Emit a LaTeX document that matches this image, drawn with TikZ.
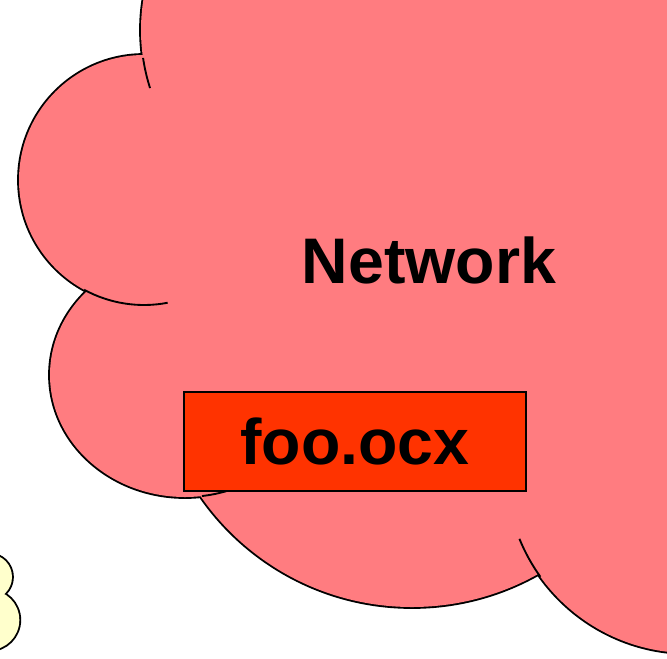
\documentclass[tikz,border=0pt]{standalone}
\usepackage{fontspec}
\setmainfont{Liberation Sans}
\usepackage{tikz}
\usetikzlibrary{calc}
\definecolor{cloudpink}{HTML}{FF7C80}
\definecolor{ocxred}{HTML}{FF3300}
\definecolor{puffyellow}{HTML}{FFFFCC}
\tikzstyle{lobeline}=[line width=3.2pt, draw=black]
\tikzstyle{stub}=[line width=1.6pt, draw=black]
\tikzstyle{bigtext}=[font=\fontsize{55}{60}\selectfont\bfseries]
\tikzstyle{ocxbox}=[bigtext, draw=black, fill=ocxred, line width=.9pt, inner sep=0pt, minimum width=10.26cm, minimum height=2.97cm]

\begin{document}
\begin{tikzpicture}[x=.03cm, y=-.03cm]
	\useasboundingbox (0,0) rectangle (667,658);
	\clip (0,0) rectangle (667,658);
	\coordinate (lobeA) at (332,30);
	\coordinate (lobeB) at (144,180);
	\coordinate (lobeC) at (185,375);
	\coordinate (lobeD) at (412,350);
	\coordinate (lobeE) at (689,470);
	\coordinate (puffA) at (-10.7,577);
	\coordinate (puffB) at (-10.7,620);
	% outline first, then the fill eats the inner half of every line
	\foreach \c/\r in {lobeA/191, lobeB/125, lobeD/257, lobeE/183}
		\draw[lobeline] (\c) circle (\r);
	\draw[lobeline] (lobeC) ellipse [x radius=135, y radius=122];
	\foreach \c/\r in {lobeA/191, lobeB/125, lobeD/257, lobeE/183}
		\fill[cloudpink] (\c) circle (\r);
	\fill[cloudpink] (lobeC) ellipse [x radius=135, y radius=122];
	\fill[cloudpink] (lobeB) -- (lobeA) -- (332,-10) -- (700,-10) -- (700,470) -- (lobeD) -- (lobeC) -- cycle;
	% inner ends of the lobes
	\draw[stub] ($(lobeA)+(171.6:191)$) arc[start angle=171.6, end angle=162.3, radius=191];
	\draw[stub] ($(lobeB)+(118.6:125)$) arc[start angle=118.6, end angle=79.1, radius=125];
	\draw[stub] ($(lobeC)+(82.8:135 and 122)$) arc[start angle=82.8, end angle=60, x radius=135, y radius=122];
	\draw[stub] ($(lobeE)+(144.3:183)$) arc[start angle=144.3, end angle=157.9, radius=183];
	% small puffs
	\foreach \c/\r in {puffA/22.7, puffB/30}
		\draw[lobeline] (\c) circle (\r);
	\foreach \c/\r in {puffA/22.7, puffB/30}
		\fill[puffyellow] (\c) circle (\r);
	\node[bigtext, anchor=base] (net) at (429,283) {Network};
	\node[ocxbox] (ocx) at (355,441.5) {foo.ocx};
\end{tikzpicture}
\end{document}
